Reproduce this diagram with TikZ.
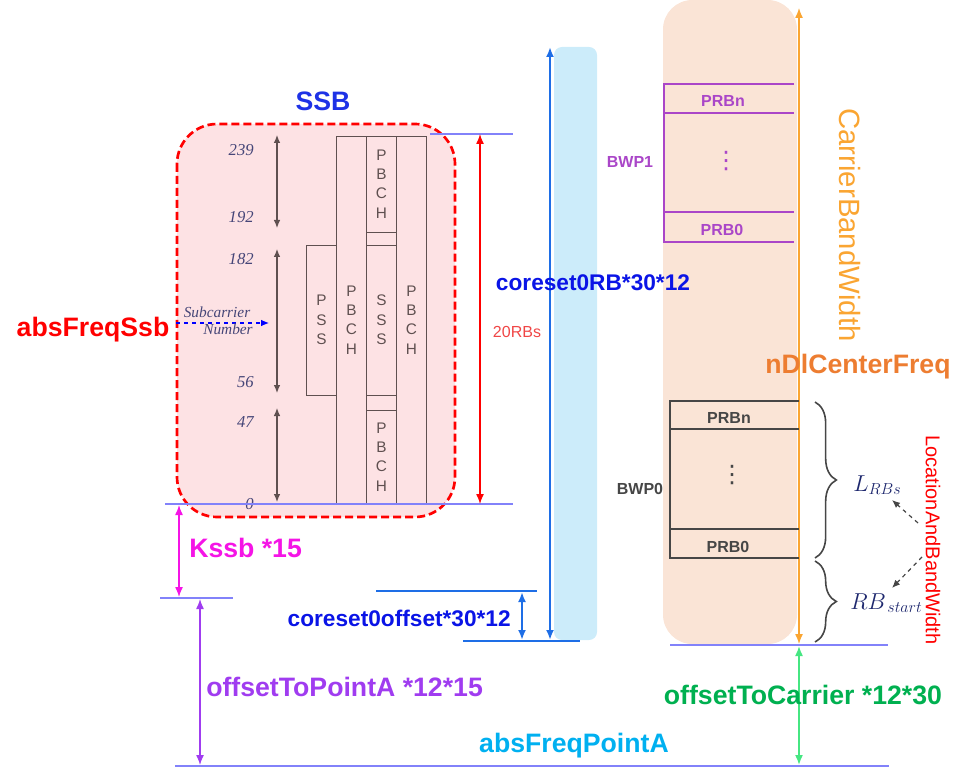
\documentclass[tikz,border=0pt]{standalone}
\usepackage{fontspec}
\setmainfont{Liberation Serif}
\setsansfont{Liberation Sans}
\newfontfamily\dotsfont{DejaVu Sans}
\usetikzlibrary{arrows.meta,decorations.pathreplacing}

\definecolor{ssbfill}{RGB}{253,226,228}
\definecolor{peachfill}{RGB}{250,228,214}
\definecolor{corefill}{RGB}{204,236,250}
\definecolor{lineblue}{RGB}{130,130,250}
\definecolor{coreblue}{RGB}{30,110,230}
\definecolor{labelblue}{RGB}{10,20,230}
\definecolor{ssbtitle}{RGB}{30,50,230}
\definecolor{kssbpink}{RGB}{245,20,230}
\definecolor{pointapurple}{RGB}{160,60,240}
\definecolor{pointacyan}{RGB}{0,176,240}
\definecolor{carriergreen}{RGB}{0,176,80}
\definecolor{arrowgreen}{RGB}{70,230,130}
\definecolor{centerorange}{RGB}{237,125,49}
\definecolor{bworange}{RGB}{250,165,50}
\definecolor{bwppurple}{RGB}{170,70,200}
\definecolor{boxgray}{RGB}{95,80,80}
\definecolor{numblue}{RGB}{70,70,120}
\definecolor{darkgray}{RGB}{70,70,70}
\definecolor{rbred}{RGB}{240,70,70}
\definecolor{mathnavy}{RGB}{30,40,110}

\begin{document}
\begin{tikzpicture}[x=0.75pt,y=-0.75pt]
\tikzset{bigtext/.style={font=\sffamily\bfseries\fontsize{20}{24}\selectfont, inner sep=0pt},
  midtext/.style={font=\sffamily\bfseries\fontsize{17}{20}\selectfont, inner sep=0pt, text=labelblue},
  sigbox/.style={draw=boxgray, line width=0.7pt, minimum width=22.5pt, inner sep=0pt, outer sep=0pt,
    align=center, font=\sffamily\fontsize{11.5}{14.5}\selectfont, text=boxgray},
  num/.style={font=\itshape\fontsize{12.5}{14}\selectfont, text=numblue, anchor=east, inner sep=0pt},
  sub/.style={font=\itshape\fontsize{11.5}{13}\selectfont, text=numblue, inner sep=0pt},
  refline/.style={draw=lineblue, line width=1.6pt},
  twoway/.style={{Latex[length=7.5pt,width=6pt]}-{Latex[length=7.5pt,width=6pt]}},
  prb/.style={font=\sffamily\bfseries\fontsize{12}{14}\selectfont, inner sep=0pt},
  dots/.style={font=\dotsfont\fontsize{18}{18}\selectfont, inner sep=0pt},
  brace/.style={decorate, decoration={brace, amplitude=16pt}, draw=darkgray, line width=1.2pt}}
\useasboundingbox (0,0) rectangle (970,780);
\fill[peachfill, rounded corners=22pt] (663,0) rectangle (797,644);
\fill[corefill, rounded corners=6pt] (554,47) rectangle (597,640);
\draw[red, line width=2pt, dash pattern=on 6pt off 3pt, fill=ssbfill, rounded corners=30pt] (177,124) rectangle (455,517);
\node[bigtext, text=ssbtitle] (ssb) at (323,101) {SSB};
\node[sigbox, minimum height=112.5pt] (pss) at (321.5,320) {P\\S\\S};
\node[sigbox, minimum height=276pt] (pbch1) at (351.5,320) {P\\B\\C\\H};
\node[sigbox, minimum height=72pt] (pbch2) at (381.5,184) {P\\B\\C\\H};
\node[sigbox, minimum height=112.5pt] (sss) at (381.5,320) {S\\S\\S};
\node[sigbox, minimum height=70.5pt] (pbch3) at (381.5,457) {P\\B\\C\\H};
\node[sigbox, minimum height=276pt] (pbch4) at (411.5,320) {P\\B\\C\\H};
\node[num] (n239) at (254,150) {239};
\node[num] (n192) at (254,217) {192};
\node[num] (n182) at (254,259) {182};
\node[num] (n56) at (254,382) {56};
\node[num] (n47) at (254,422) {47};
\node[num] (n0) at (254,504) {0};
\coordinate (a1t) at (277,135); \coordinate (a1b) at (277,228);
\coordinate (a2t) at (277,249); \coordinate (a2b) at (277,393);
\coordinate (a3t) at (277,408); \coordinate (a3b) at (277,502);
\draw[boxgray, line width=0.9pt, {Latex[length=6pt,width=5pt]}-{Latex[length=6pt,width=5pt]}] (a1t) -- (a1b);
\draw[boxgray, line width=0.9pt, {Latex[length=6pt,width=5pt]}-{Latex[length=6pt,width=5pt]}] (a2t) -- (a2b);
\draw[boxgray, line width=0.9pt, {Latex[length=6pt,width=5pt]}-{Latex[length=6pt,width=5pt]}] (a3t) -- (a3b);
\coordinate (subL) at (176,323); \coordinate (subR) at (269,323);
\draw[blue, dashed, line width=0.8pt, -{Latex[length=6pt,width=5pt]}] (subL) -- (subR);
\node[sub] (subc) at (217,312) {Subcarrier};
\node[sub] (numb) at (228,329) {Number};
\node[bigtext, text=red] (absssb) at (93,330) {absFreqSsb};
\coordinate (topL) at (430,134); \coordinate (topR) at (513,134);
\coordinate (zeroL) at (165,504); \coordinate (zeroR) at (513,504);
\coordinate (kL) at (160,598); \coordinate (kR) at (233,598);
\coordinate (paL) at (175,766); \coordinate (paR) at (889,766);
\coordinate (carL) at (670,645); \coordinate (carR) at (888,645);
\draw[refline] (topL) -- (topR);
\draw[refline] (zeroL) -- (zeroR);
\draw[refline] (kL) -- (kR);
\draw[refline] (paL) -- (paR);
\draw[refline] (carL) -- (carR);
\coordinate (rbT) at (480,134); \coordinate (rbB) at (480,504);
\draw[red, line width=1pt, twoway] (rbT) -- (rbB);
\node[font=\sffamily\fontsize{12}{14}\selectfont, text=rbred] (rbs) at (517,332) {20RBs};
\coordinate (kT) at (179,505); \coordinate (kB) at (179,597);
\draw[kssbpink, line width=1pt, twoway] (kT) -- (kB);
\node[bigtext, text=kssbpink, anchor=west] (kssb) at (189,548) {Kssb *15};
\coordinate (paT) at (200,599); \coordinate (paB) at (200,765);
\draw[pointapurple, line width=1pt, twoway] (paT) -- (paB);
\node[bigtext, text=pointapurple, anchor=west] (ptoa) at (206,687) {offsetToPointA *12*15};
\coordinate (coL) at (376,591); \coordinate (coR) at (537,591);
\coordinate (cbL) at (463,641); \coordinate (cbR) at (580,641);
\draw[coreblue, line width=1.2pt] (coL) -- (coR);
\draw[coreblue, line width=1.2pt] (cbL) -- (cbR);
\coordinate (coT) at (522,592); \coordinate (coB) at (522,640);
\draw[coreblue, line width=1.5pt, twoway] (coT) -- (coB);
\node[midtext, anchor=east] (cooff) at (511,618) {coreset0offset*30*12};
\coordinate (crT) at (550,47); \coordinate (crB) at (550,640);
\draw[coreblue, line width=1.5pt, twoway] (crB) -- (crT);
\node[midtext] (corb) at (593,283) {coreset0RB*30*12};
\coordinate (cwT) at (799,8); \coordinate (cwB) at (799,644);
\draw[bworange, line width=1pt, twoway] (cwB) -- (cwT);
\node[font=\sffamily\fontsize{22}{26}\selectfont, text=bworange, rotate=-90, inner sep=0pt] (cbw) at (850,225) {CarrierBandWidth};
\draw[bwppurple, line width=1.2pt] (794,84) -- (664,84) -- (664,242) -- (794,242);
\draw[bwppurple, line width=1.2pt] (664,113) -- (794,113);
\draw[bwppurple, line width=1.2pt] (664,212) -- (794,212);
\node[prb, text=bwppurple] (b1n) at (723,101) {PRBn};
\node[prb, text=bwppurple] (b1z) at (722,230) {PRB0};
\node[dots, text=bwppurple] (b1d) at (726,161) {⋮};
\node[prb, text=bwppurple] (bwp1) at (630,162) {BWP1};
\draw[darkgray, line width=1.2pt] (799,401) -- (670,401) -- (670,558) -- (799,558);
\draw[darkgray, line width=1.2pt] (670,429) -- (799,429);
\draw[darkgray, line width=1.2pt] (670,529) -- (799,529);
\node[prb, text=darkgray] (b0n) at (729,418) {PRBn};
\node[prb, text=darkgray] (b0z) at (728,547) {PRB0};
\node[dots, text=darkgray] (b0d) at (732,475) {⋮};
\node[prb, text=darkgray] (bwp0) at (640,489) {BWP0};
\coordinate (brA) at (815,402); \coordinate (brB) at (815,558);
\coordinate (brC) at (815,561); \coordinate (brD) at (815,642);
\draw[brace] (brA) -- (brB);
\draw[brace] (brC) -- (brD);
\node[text=mathnavy, anchor=west, font=\fontsize{18}{20}\selectfont, inner sep=0pt] (lrbs) at (853,485) {$L_{RBs}$};
\node[text=mathnavy, anchor=west, font=\fontsize{18}{20}\selectfont, inner sep=0pt] (rbst) at (850,603) {$RB_{\,start}$};
\node[font=\sffamily\fontsize{15}{18}\selectfont, text=red, rotate=-90, inner sep=0pt] (loc) at (933,540) {LocationAndBandWidth};
\coordinate (locU) at (918,523); \coordinate (locUt) at (892,500);
\coordinate (locD) at (922,557); \coordinate (locDt) at (892,588);
\draw[darkgray, dashed, line width=0.9pt, -{Latex[length=6pt,width=5pt]}] (locU) -- (locUt);
\draw[darkgray, dashed, line width=0.9pt, -{Latex[length=6pt,width=5pt]}] (locD) -- (locDt);
\node[bigtext, text=centerorange] (ndl) at (858,367) {nDlCenterFreq};
\coordinate (gT) at (799,646); \coordinate (gB) at (799,765);
\draw[arrowgreen, line width=1.2pt, twoway] (gT) -- (gB);
\node[bigtext, text=carriergreen] (otc) at (803,695) {offsetToCarrier *12*30};
\node[bigtext, text=pointacyan] (pta) at (574,746) {absFreqPointA};
\end{tikzpicture}
\end{document}
